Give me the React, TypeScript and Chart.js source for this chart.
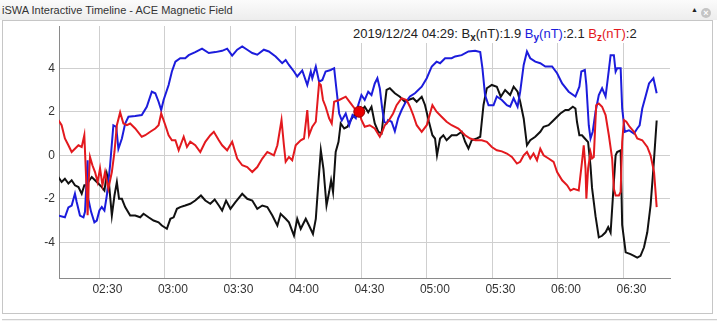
import React, { useEffect, useRef } from "react";
import { Chart, registerables } from "chart.js";

Chart.register(...registerables);

// ---- data (time in minutes after 00:00, 2019-12-24 UT) ----
const bxTimes = [131.2,132.7,134.2,135.8,137.3,138.8,140.4,141.9,143.1,144.2,144.9,146.5,148.0,149.5,151.1,152.3,153.4,154.4,155.7,156.9,158.0,159.0,160.3,161.8,164.1,166.4,168.7,170.2,172.5,174.8,177.1,178.6,180.9,182.5,184.0,185.5,187.0,189.3,191.6,193.9,196.5,198.5,200.8,202.8,204.7,206.2,208.0,210.0,212.3,215.4,217.7,220.0,222.3,224.6,226.9,229.2,231.5,233.0,235.3,236.8,239.1,240.6,242.2,244.5,246.0,247.8,249.1,250.3,251.4,252.6,254.0,255.2,256.1,257.0,258.2,259.5,260.5,262.1,263.6,265.1,266.7,268.2,269.7,271.5,273.1,274.6,276.1,277.7,279.2,280.4,281.5,283.0,285.3,287.6,289.9,291.4,293.7,295.3,297.6,299.1,300.9,302.5,303.7,304.6,306.0,307.5,309.0,311.3,313.6,315.9,317.5,319.0,320.5,322.8,324.4,325.9,327.4,329.7,332.0,333.8,335.8,338.1,339.7,341.5,342.7,344.3,345.8,347.3,349.6,351.9,353.4,355.7,357.3,358.8,361.1,363.4,364.9,366.8,368.0,368.7,369.8,371.0,372.3,373.8,374.9,375.6,377.2,378.7,380.2,381.8,383.0,384.1,385.1,386.4,387.1,388.7,389.4,391.0,393.2,394.8,396.3,397.8,399.4,400.9,402.4,403.7,405.2];
const bxValues = [-1.0,-1.23,-1.08,-1.3,-1.15,-1.38,-1.46,-1.77,-1.38,-1.38,-1.23,-1.0,-1.15,-1.3,-1.46,-1.62,-0.85,-1.3,-2.77,-1.85,-1.23,-2.0,-2.0,-2.38,-2.77,-2.77,-2.85,-2.69,-2.85,-3.0,-3.08,-3.23,-3.38,-2.92,-2.85,-2.46,-2.38,-2.31,-2.23,-2.08,-1.85,-2.08,-2.23,-2.03,-2.31,-2.54,-2.08,-2.46,-2.15,-1.77,-2.0,-2.08,-2.46,-2.31,-2.38,-2.77,-3.23,-2.69,-2.92,-3.08,-3.69,-2.92,-3.38,-2.92,-3.23,-3.62,-2.92,-1.23,0.23,-0.62,-2.31,-1.69,-1.15,-1.69,0.15,0.62,1.46,1.23,1.31,1.62,1.85,1.92,2.0,2.23,1.97,2.23,1.46,1.08,1.0,2.08,3.0,3.08,2.85,2.69,2.46,2.54,2.62,2.46,2.69,2.31,1.54,0.92,0.77,0.0,0.77,0.92,0.69,0.92,0.92,1.08,0.62,0.31,0.69,0.77,0.85,2.31,3.08,3.23,3.15,2.69,3.0,2.77,3.15,2.92,2.46,1.69,0.46,0.69,0.85,1.08,1.31,1.38,1.54,1.69,1.92,2.08,2.08,2.23,2.15,1.54,0.92,0.92,0.77,0.6,-0.5,-1.5,-2.8,-3.77,-3.7,-3.54,-3.3,-3.55,-2.0,0.0,0.15,0.23,-3.2,-4.46,-4.54,-4.62,-4.7,-4.62,-4.23,-3.54,-2.3,-0.6,1.6];

const byTimes = [131.2,134.2,135.8,137.3,138.8,139.6,141.1,142.7,143.4,144.6,144.9,146.2,147.7,148.8,150.0,151.1,152.3,153.4,154.9,156.4,157.7,158.7,160.3,161.8,163.3,166.4,169.4,171.7,174.0,175.6,177.1,178.3,179.4,181.7,183.2,184.8,187.0,189.3,190.9,193.9,197.0,200.1,203.1,206.2,208.5,210.8,213.1,215.4,217.7,220.0,222.3,225.3,227.6,230.7,233.7,235.3,236.8,239.1,240.6,242.9,245.2,246.8,247.5,249.1,250.6,252.1,253.6,255.9,257.5,258.5,259.8,261.0,262.8,264.4,265.9,267.4,268.5,270.0,271.5,273.1,274.6,276.1,277.3,278.4,279.5,280.4,281.5,282.2,283.8,285.3,286.8,288.4,289.9,292.2,294.5,297.6,299.9,302.2,304.4,306.0,308.3,311.3,312.9,315.9,319.0,322.1,324.4,325.4,326.6,328.2,330.5,332.0,334.3,336.6,338.1,339.7,341.5,342.7,344.3,345.8,347.3,349.6,351.9,354.2,357.3,359.6,361.9,364.9,368.0,369.8,370.7,372.3,373.0,374.1,374.9,375.9,377.2,378.7,380.2,381.8,383.3,384.1,385.6,386.4,387.1,388.7,389.4,390.6,392.5,394.8,396.3,397.4,398.6,400.1,401.7,403.7,405.2];
const byValues = [-2.77,-2.85,-2.4,-2.31,-1.77,-2.15,-2.77,-2.85,-2.6,-0.23,-2.0,-2.6,-3.08,-3.0,-2.54,-2.38,-2.54,-1.85,-0.46,1.38,1.31,0.3,0.77,1.46,1.77,1.8,1.85,2.23,2.92,2.85,2.46,2.08,2.54,3.23,3.85,4.3,4.46,4.46,4.6,4.74,4.9,4.7,4.74,4.8,4.9,4.58,4.85,5.0,4.85,4.7,4.62,4.85,4.77,4.54,4.23,4.38,4.15,3.85,3.62,3.9,3.23,3.85,3.54,4.08,3.38,3.46,3.85,3.92,4.0,3.08,1.92,1.6,1.92,1.38,1.85,1.7,2.3,2.77,2.54,2.92,2.77,3.3,3.54,3.08,2.15,1.54,1.46,1.62,1.54,1.1,1.7,2.08,2.38,2.7,2.85,3.15,3.54,4.08,4.3,4.23,4.46,4.46,4.54,4.6,4.77,4.8,4.74,4.0,2.77,2.3,2.3,2.7,2.54,2.3,2.23,2.62,2.23,2.92,4.15,4.77,4.46,4.3,4.23,4.08,4.08,3.77,3.3,2.92,2.7,3.15,3.85,3.92,3.23,1.38,0.77,1.08,2.0,2.77,3.08,2.7,3.92,4.6,4.6,3.85,4.0,4.0,2.15,1.08,1.15,1.0,1.23,1.38,2.15,2.7,3.3,3.54,2.85];

const bzTimes = [131.2,132.7,134.2,135.8,137.3,138.8,140.4,141.9,143.1,144.2,144.6,145.2,145.7,146.8,148.0,149.2,150.3,151.4,152.6,154.1,155.7,156.9,158.0,159.5,161.0,162.6,164.1,166.4,169.4,171.0,173.3,175.6,177.1,178.3,180.2,181.7,183.2,184.8,186.3,188.6,190.1,191.6,193.9,196.2,198.5,200.8,202.4,204.7,206.2,208.5,210.8,213.1,215.4,217.7,220.0,222.3,224.6,226.9,228.4,229.9,231.5,233.4,234.5,235.3,236.8,238.3,239.9,242.2,243.7,245.2,246.0,247.5,249.1,250.6,251.4,252.4,253.6,255.2,256.4,257.5,259.8,262.8,265.1,267.4,269.0,270.0,271.5,273.8,276.1,278.4,279.5,280.7,282.2,284.5,286.1,288.4,290.7,292.2,293.7,295.3,297.6,299.9,301.4,302.5,304.4,306.7,309.0,311.3,314.4,317.5,319.8,322.1,325.1,327.4,329.7,332.0,334.3,336.6,338.9,341.2,342.7,344.3,345.8,347.3,348.8,350.4,351.9,353.4,355.7,358.0,359.6,361.9,364.2,365.7,367.2,369.5,371.0,371.8,372.6,373.0,373.8,374.9,375.6,376.4,377.5,378.7,380.2,381.8,383.3,384.8,385.6,386.4,387.9,388.7,389.4,390.2,391.3,392.8,394.8,396.3,398.6,400.9,402.4,404.0,405.2];
const bzValues = [1.62,1.38,0.77,0.46,0.15,0.3,0.46,0.38,0.92,-1.7,-2.75,-1.0,-0.08,-0.46,-0.77,-1.23,-0.6,-1.38,-0.77,-1.54,-0.77,0.15,1.38,1.97,1.46,1.38,1.46,1.23,0.85,0.92,1.08,1.23,1.38,1.92,1.38,0.92,0.69,0.69,0.23,0.85,0.38,0.62,0.46,0.15,0.62,0.92,1.08,0.69,0.46,0.23,0.62,-0.15,-0.46,-0.54,-0.77,-0.54,-0.15,0.15,0.08,0.0,0.46,1.62,0.46,-0.3,-0.08,-0.23,0.46,0.69,0.77,2.08,0.92,1.31,1.54,3.31,3.23,2.54,2.23,1.7,1.46,2.46,2.54,2.69,2.38,2.08,2.0,1.62,1.31,1.38,1.23,0.85,1.08,1.38,1.54,1.92,2.3,2.62,2.54,2.23,1.85,1.38,1.08,1.38,1.92,2.3,2.0,1.77,1.54,1.38,1.23,0.92,0.77,0.69,0.69,0.62,0.38,0.23,0.18,0.08,-0.08,-0.38,-0.3,0.0,0.15,-0.15,0.08,-0.23,0.3,0.0,-0.15,-0.3,-0.77,-1.15,-1.38,-1.62,-1.54,-1.62,-0.3,0.46,-0.6,-2.0,-0.6,0.15,-0.15,-0.08,2.3,2.38,2.23,1.85,0.92,-0.15,-1.54,-1.85,-1.85,-1.69,0.62,1.62,1.54,1.31,1.08,0.77,0.69,0.38,0.0,-0.77,-2.38];

const hoverTime = [269];
const hoverValue = [2.0];

const xTickMinutes = [150, 180, 210, 240, 270, 300, 330, 360, 390];
const yTickValues = [-4, -2, 0, 2, 4];
const xRange = [131.5, 411.3];
const yRange = [-5.64, 5.94];

const titleText = "iSWA Interactive Timeline - ACE Magnetic Field";
const legendStamp = "2019/12/24 04:29:";
const legendValues = ["1.9", "2.1", "2"];

const FONT = "'Liberation Sans', Arial, sans-serif";
const BX_COLOR = "#111111";
const BY_COLOR = "#1c1cdc";
const BZ_COLOR = "#e3191e";

const fmtTime = (m: number) => {
  const h = Math.floor(m / 60);
  const mm = Math.round(m - h * 60);
  return String(h).padStart(2, "0") + ":" + String(mm).padStart(2, "0");
};

const toPoints = (ts: number[], vs: number[]) => ts.map((t, i) => ({ x: t, y: vs[i] }));

export default function App() {
  const canvasRef = useRef<HTMLCanvasElement | null>(null);

  useEffect(() => {
    const canvas = canvasRef.current;
    if (!canvas) return;
    const chart = new Chart(canvas, {
      type: "line",
      data: {
        datasets: [
          {
            label: "hover",
            data: toPoints(hoverTime, hoverValue),
            showLine: false,
            pointRadius: 5.5,
            pointBackgroundColor: "#e80000",
            pointBorderColor: "#9a0000",
            pointBorderWidth: 1,
          },
          {
            label: "Bz(nT)",
            data: toPoints(bzTimes, bzValues),
            borderColor: BZ_COLOR,
            borderWidth: 2,
            pointRadius: 0,
            tension: 0,
          },
          {
            label: "By(nT)",
            data: toPoints(byTimes, byValues),
            borderColor: BY_COLOR,
            borderWidth: 2,
            pointRadius: 0,
            tension: 0,
          },
          {
            label: "Bx(nT)",
            data: toPoints(bxTimes, bxValues),
            borderColor: BX_COLOR,
            borderWidth: 2,
            pointRadius: 0,
            tension: 0,
          },
        ],
      },
      options: {
        animation: false,
        responsive: false,
        events: [],
        layout: { padding: { left: 0, top: 26, right: 47, bottom: 0 } },
        plugins: { legend: { display: false }, tooltip: { enabled: false } },
        scales: {
          x: {
            type: "linear",
            min: xRange[0],
            max: xRange[1],
            afterBuildTicks: (s: any) => {
              s.ticks = xTickMinutes.map((v) => ({ value: v }));
            },
            afterFit: (s: any) => {
              s.height = 43;
            },
            grid: { color: "#cfcfcf", lineWidth: 1, drawTicks: false },
            border: { color: "#8a8a8a", width: 1 },
            ticks: {
              padding: 4,
              labelOffset: 8,
              maxRotation: 0,
              autoSkip: false,
              color: "#333",
              font: { family: FONT, size: 12 },
              callback: (v: any) => fmtTime(Number(v)),
            },
          },
          y: {
            type: "linear",
            min: yRange[0],
            max: yRange[1],
            afterBuildTicks: (s: any) => {
              s.ticks = yTickValues.map((v) => ({ value: v }));
            },
            afterFit: (s: any) => {
              s.width = 59;
            },
            grid: { color: "#cfcfcf", lineWidth: 1, drawTicks: false },
            border: { color: "#8a8a8a", width: 1 },
            ticks: {
              padding: 4,
              color: "#333",
              font: { family: FONT, size: 12 },
              callback: (v: any) => String(v),
            },
          },
        },
      },
    });
    return () => chart.destroy();
  }, []);

  const sub: React.CSSProperties = { fontSize: 10, fontWeight: "bold", lineHeight: 0, verticalAlign: "-3px" };

  return (
    <div style={{ position: "absolute", left: 0, top: 0, width: 717, height: 321, background: "#ffffff", overflow: "hidden", fontFamily: FONT }}>
      <div style={{ position: "absolute", left: 0, top: 0, width: 717, height: 20, background: "linear-gradient(#fbfbfb, #ededed)" }} />
      <div style={{ position: "absolute", left: 2, top: 4, font: `11px ${FONT}`, lineHeight: "13px", color: "#333", whiteSpace: "nowrap" }}>{titleText}</div>
      <div style={{ position: "absolute", left: 691, top: 6, fontSize: 7, lineHeight: "8px", color: "#222" }}>▲</div>
      <div style={{ position: "absolute", left: 701, top: 8, width: 10, height: 10, borderRadius: 5, background: "#c4c4c4", color: "#fff", fontSize: 9, lineHeight: "10px", textAlign: "center", fontWeight: "bold" }}>×</div>
      <div style={{ position: "absolute", left: 2, top: 20, width: 709, height: 292, border: "1px solid #c6c6c6", background: "#fff" }} />
      <div style={{ position: "absolute", left: 2, top: 319, width: 715, height: 2, background: "#f2f2f2", borderTop: "1px solid #cfcfcf" }} />
      <canvas ref={canvasRef} width={717} height={321} style={{ position: "absolute", left: 0, top: 0, width: 717, height: 321 }} />
      <div style={{ position: "absolute", left: 350, top: 21, width: 305, height: 22, background: "#fff", zIndex: 2 }} />
      <div style={{ position: "absolute", left: 353, top: 26, font: `13px ${FONT}`, lineHeight: "15px", color: "#222", whiteSpace: "nowrap", zIndex: 3 }}>
        {legendStamp} B<span style={sub}>x</span>(nT):{legendValues[0]}{" "}
        <span style={{ color: BY_COLOR }}>B<span style={sub}>y</span>(nT)</span>:{legendValues[1]}{" "}
        <span style={{ color: BZ_COLOR }}>B<span style={sub}>z</span>(nT)</span>:{legendValues[2]}
      </div>
    </div>
  );
}
